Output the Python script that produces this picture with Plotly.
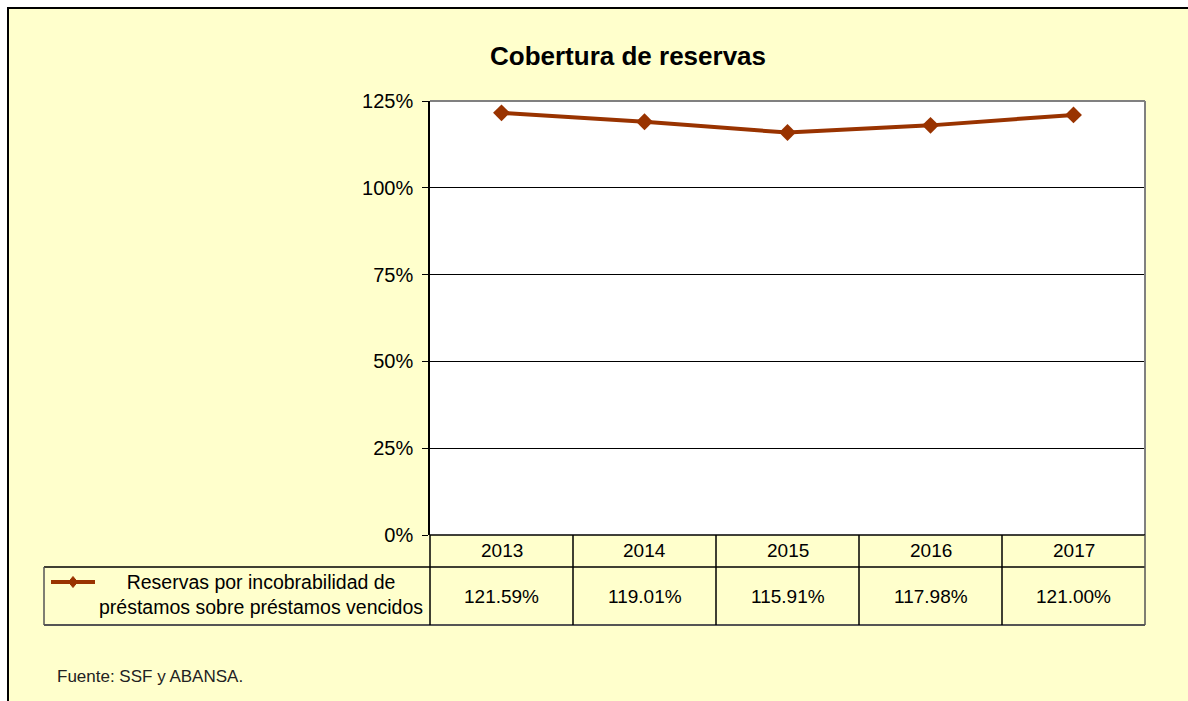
import plotly.graph_objects as go

years = ["2013", "2014", "2015", "2016", "2017"]
values = [121.59, 119.01, 115.91, 117.98, 121.00]
value_labels = ["121.59%", "119.01%", "115.91%", "117.98%", "121.00%"]
series_name = "Reservas por incobrabilidad de<br>préstamos sobre préstamos vencidos"
title_text = "Cobertura de reservas"
source_text = "Fuente: SSF y ABANSA."
y_ticks = [0, 25, 50, 75, 100, 125]

# body margin is removed by post_script, so page pixels == figure pixels
W, H = 1188, 701
L, R, T, B = 430, 1145, 101, 535
PW, PH = R - L, B - T
FONT = "Liberation Sans, Arial, sans-serif"
LINE_COLOR = "#993300"
BG = "#FFFFCC"


def px(x):
    """page x pixel -> paper coordinate"""
    return (x - L) / PW


def py(y):
    """page y pixel -> paper coordinate"""
    return (B - y) / PH


fig = go.Figure()
fig.add_trace(go.Scatter(
    x=years, y=values, mode="lines+markers",
    line=dict(color=LINE_COLOR, width=4),
    marker=dict(symbol="diamond", size=13, color=LINE_COLOR),
    showlegend=False, hoverinfo="x+y",
))

shapes = []
annotations = []

# white strip outside the chart frame (top and left)
shapes.append(dict(type="rect", xref="paper", yref="paper", x0=px(-2), x1=px(1200), y0=py(-2), y1=py(7),
                   fillcolor="white", line=dict(width=0), layer="above"))
shapes.append(dict(type="rect", xref="paper", yref="paper", x0=px(-2), x1=px(7), y0=py(-2), y1=py(710),
                   fillcolor="white", line=dict(width=0), layer="above"))
# outer border (top and left visible)
shapes.append(dict(type="line", xref="paper", yref="paper", x0=px(7), x1=px(1200), y0=py(8), y1=py(8),
                   line=dict(color="black", width=2)))
shapes.append(dict(type="line", xref="paper", yref="paper", x0=px(8), x1=px(8), y0=py(7), y1=py(710),
                   line=dict(color="black", width=2)))

# plot area border top/right gray
shapes.append(dict(type="line", xref="paper", yref="paper", x0=0, x1=1, y0=1, y1=1,
                   line=dict(color="#808080", width=2)))
shapes.append(dict(type="line", xref="paper", yref="paper", x0=1, x1=1, y0=0, y1=1,
                   line=dict(color="#808080", width=2)))

# data table
row1_top, row2_top, row2_bot = 535, 567, 625
col_w = PW / len(years)
shapes.append(dict(type="line", xref="paper", yref="paper", x0=0, x1=1, y0=py(row1_top), y1=py(row1_top),
                   line=dict(color="black", width=1.5)))
shapes.append(dict(type="line", xref="paper", yref="paper", x0=px(44), x1=1, y0=py(row2_top), y1=py(row2_top),
                   line=dict(color="black", width=1.5)))
shapes.append(dict(type="line", xref="paper", yref="paper", x0=px(44), x1=1, y0=py(row2_bot), y1=py(row2_bot),
                   line=dict(color="#555555", width=2)))
shapes.append(dict(type="line", xref="paper", yref="paper", x0=px(44), x1=px(44), y0=py(row2_top), y1=py(row2_bot),
                   line=dict(color="#555555", width=1.5)))
for i in range(len(years) + 1):
    xp = L + i * col_w
    shapes.append(dict(type="line", xref="paper", yref="paper", x0=px(xp), x1=px(xp),
                       y0=py(row1_top), y1=py(row2_bot),
                       line=dict(color="black" if i < len(years) else "#555555", width=1.5)))

for i, (yr, lab) in enumerate(zip(years, value_labels)):
    cx = L + (i + 0.5) * col_w
    annotations.append(dict(text=yr, xref="paper", yref="paper", x=px(cx), y=py(550),
                            showarrow=False, xanchor="center", yanchor="middle",
                            font=dict(family=FONT, size=19, color="black")))
    annotations.append(dict(text=lab, xref="paper", yref="paper", x=px(cx), y=py(596),
                            showarrow=False, xanchor="center", yanchor="middle",
                            font=dict(family=FONT, size=19, color="black")))

# legend key inside the table
shapes.append(dict(type="line", xref="paper", yref="paper", x0=px(51), x1=px(95), y0=py(582), y1=py(582),
                   line=dict(color=LINE_COLOR, width=4)))
dx, dy = 4.5, 5.5
shapes.append(dict(type="path", xref="paper", yref="paper",
                   path=(f"M {px(73)} {py(582 - dy)} L {px(73 + dx)} {py(582)} "
                         f"L {px(73)} {py(582 + dy)} L {px(73 - dx)} {py(582)} Z"),
                   fillcolor=LINE_COLOR, line=dict(color=LINE_COLOR, width=1)))
annotations.append(dict(text=series_name, xref="paper", yref="paper", x=px(261), y=py(594),
                        showarrow=False, xanchor="center", yanchor="middle", align="center",
                        font=dict(family=FONT, size=19.5, color="black")))

# title
annotations.append(dict(text=f"<b>{title_text}</b>", xref="paper", yref="paper", x=px(628), y=py(56),
                        showarrow=False, xanchor="center", yanchor="middle",
                        font=dict(family=FONT, size=26, color="black")))
# source
annotations.append(dict(text=source_text, xref="paper", yref="paper", x=px(55), y=py(676),
                        showarrow=False, xanchor="left", yanchor="middle",
                        font=dict(family=FONT, size=17, color="#222222")))

fig.update_layout(
    width=W, height=H,
    margin=dict(l=L, r=W - R, t=T, b=H - B, pad=0),
    paper_bgcolor=BG, plot_bgcolor="white",
    shapes=shapes, annotations=annotations,
    xaxis=dict(type="category", range=[-0.5, len(years) - 0.5], showticklabels=False,
               showgrid=False, zeroline=False, showline=False, ticks=""),
    yaxis=dict(range=[0, 125], tickvals=y_ticks, ticktext=[f"{v}%" for v in y_ticks],
               showgrid=True, gridcolor="black", gridwidth=1, zeroline=False,
               showline=True, linecolor="black", linewidth=1.5,
               ticks="outside", ticklen=6, tickcolor="black", ticklabelstandoff=5,
               tickfont=dict(family=FONT, size=20, color="black")),
    font=dict(family=FONT),
)

fig.write_html(
    "out.html",
    config={"displayModeBar": False},
    post_script="document.body.style.margin='0';document.body.style.overflow='hidden';",
)
